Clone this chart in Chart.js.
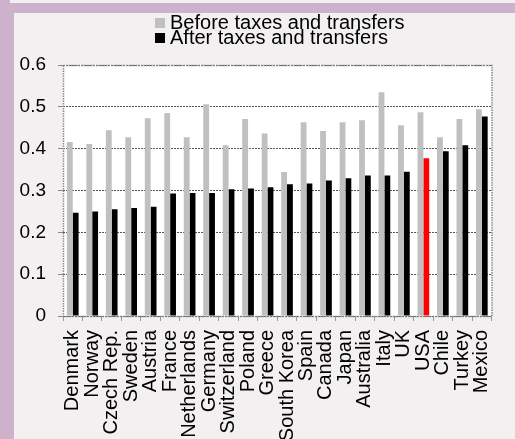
<!DOCTYPE html>
<html>
<head>
<meta charset="utf-8">
<script src="https://cdn.jsdelivr.net/npm/chart.js@4.4.1/dist/chart.umd.min.js"></script>
<style>
  html, body { margin: 0; padding: 0; }
  body { width: 515px; height: 439px; background: #cdb1cd; position: relative; overflow: hidden;
         font-family: "Liberation Sans", Arial, sans-serif; }
  .topstrip { position: absolute; left: 10px; top: 0; width: 505px; height: 3px; background: #f3f0f1; }
  .panel { position: absolute; left: 14px; top: 13px; width: 501px; height: 426px; background: #f3f0f1; }
  #chart { position: absolute; left: 0; top: 0; }
  .legend { position: absolute; left: 141px; top: 2px; font-size: 20px; color: #000; }
  .legend div { display: flex; align-items: center; height: 15px; line-height: 15px; }
  .legend span.box { width: 10px; height: 10px; margin-right: 5px; display: inline-block; }
</style>
</head>
<body>
<div class="topstrip"></div>
<div class="panel">
  <canvas id="chart" width="501" height="426"></canvas>
  <div class="legend">
    <div><span class="box" style="background:#c0c0c0"></span>Before taxes and transfers</div>
    <div><span class="box" style="background:#000"></span>After taxes and transfers</div>
  </div>
</div>
<script>
// ── Data ─────────────────────────────────────────────────────────────────────
const countries = ['Denmark', 'Norway', 'Czech Rep.', 'Sweden', 'Austria', 'France', 'Netherlands',
  'Germany', 'Switzerland', 'Poland', 'Greece', 'South Korea', 'Spain', 'Canada', 'Japan',
  'Australia', 'Italy', 'UK', 'USA', 'Chile', 'Turkey', 'Mexico'];
const beforeTaxes = [0.416, 0.411, 0.444, 0.427, 0.473, 0.485, 0.427, 0.506, 0.408, 0.471, 0.436,
  0.344, 0.463, 0.442, 0.463, 0.468, 0.535, 0.456, 0.487, 0.427, 0.471, 0.494];
const afterTaxes = [0.247, 0.250, 0.255, 0.258, 0.261, 0.293, 0.294, 0.294, 0.303, 0.305, 0.308,
  0.315, 0.317, 0.324, 0.329, 0.336, 0.336, 0.345, 0.377, 0.394, 0.408, 0.477];
const yTickLabels = ['0', '0.1', '0.2', '0.3', '0.4', '0.5', '0.6'];
const highlight = 'USA';

// ── Plot frame + white plot background ───────────────────────────────────────
const plotFrame = {
  id: 'plotFrame',
  beforeDraw(chart) {
    const { ctx, chartArea: a } = chart;
    ctx.save();
    ctx.fillStyle = '#ffffff';
    ctx.fillRect(a.left, a.top, a.right - a.left, a.bottom - a.top);
    ctx.restore();
  },
  afterDraw(chart) {
    const { ctx, chartArea: a } = chart;
    ctx.save();
    ctx.strokeStyle = '#8a8a8a';
    ctx.lineWidth = 1.5;
    ctx.setLineDash([1.5, 1]);
    ctx.strokeRect(a.left + 0.5, a.top + 0.5, a.right - a.left, a.bottom - a.top);
    ctx.restore();
  }
};

Chart.defaults.font.family = '"Liberation Sans", Arial, sans-serif';
Chart.defaults.color = '#000';

new Chart(document.getElementById('chart'), {
  type: 'bar',
  data: {
    labels: countries,
    datasets: [
      {
        label: 'Before taxes and transfers',
        data: beforeTaxes,
        backgroundColor: '#c0c0c0'
      },
      {
        label: 'After taxes and transfers',
        data: afterTaxes,
        backgroundColor: countries.map(c => c === highlight ? '#ff0000' : '#000000')
      }
    ]
  },
  options: {
    responsive: false,
    animation: false,
    layout: { padding: { top: 52, right: 8, left: 0, bottom: 0 } },
    datasets: { bar: { categoryPercentage: 0.6, barPercentage: 1.0 } },
    plugins: { legend: { display: false }, tooltip: { enabled: false } },
    scales: {
      x: {
        afterFit: s => { s.height = 123; },
        grid: { drawOnChartArea: false, drawTicks: true, tickLength: 5, tickColor: '#999', offset: true },
        border: { display: false },
        ticks: { autoSkip: false, minRotation: 90, maxRotation: 90, padding: 9, font: { size: 20 } }
      },
      y: {
        min: 0,
        max: 0.6,
        afterFit: s => { s.width = 49; },
        grid: { color: '#555', lineWidth: 1, tickLength: 5, tickColor: '#888' },
        border: { display: false, dash: [2, 1] },
        ticks: {
          stepSize: 0.1,
          padding: 12,
          font: { size: 19 },
          callback: (v, i) => yTickLabels[i]
        }
      }
    }
  },
  plugins: [plotFrame]
});
</script>
</body>
</html>
